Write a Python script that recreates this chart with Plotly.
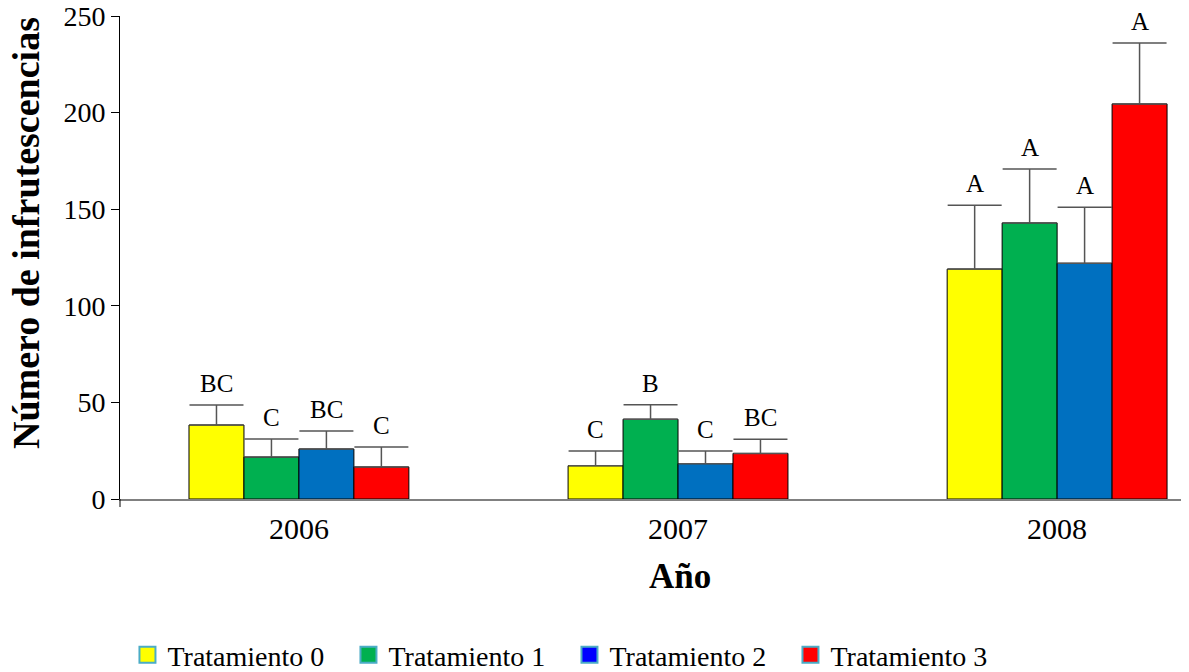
import plotly.graph_objects as go

years = ["2006", "2007", "2008"]
treatments = ["Tratamiento 0", "Tratamiento 1", "Tratamiento 2", "Tratamiento 3"]
bar_colors = ["#ffff00", "#00b050", "#0070c0", "#ff0000"]
legend_colors = ["#ffff00", "#00b050", "#0000ff", "#ff0000"]

means = [
    [38.3, 17.2, 119.0],
    [21.7, 41.3, 142.9],
    [25.9, 18.3, 122.0],
    [16.6, 23.6, 204.5],
]
err_tops = [
    [48.7, 24.8, 152.0],
    [31.0, 48.8, 170.8],
    [35.2, 24.8, 151.0],
    [26.9, 30.9, 236.0],
]
letters = [
    ["BC", "C", "A"],
    ["C", "B", "A"],
    ["BC", "C", "A"],
    ["C", "BC", "A"],
]

FONT = "Liberation Serif, Times New Roman, serif"
x_idx = list(range(len(years)))
bargap = 0.42
n = len(treatments)
bw = (1 - bargap) / n

fig = go.Figure()
annotations = []
for i, t in enumerate(treatments):
    errs = [e - m for e, m in zip(err_tops[i], means[i])]
    fig.add_trace(go.Bar(
        x=x_idx, y=means[i], name=t, showlegend=False,
        marker=dict(color=bar_colors[i], line=dict(color="black", width=1)),
        error_y=dict(type="data", symmetric=False, array=errs,
                     arrayminus=[0] * len(errs), color="#555555",
                     thickness=1.5, width=27),
    ))
    off = -(1 - bargap) / 2 + bw * (i + 0.5)
    for j in x_idx:
        annotations.append(dict(
            x=j + off, y=err_tops[i][j], text=letters[i][j], showarrow=False,
            xref="x", yref="y", yanchor="bottom", yshift=6,
            font=dict(family=FONT, size=25, color="black"),
        ))
    fig.add_trace(go.Scatter(
        x=[None], y=[None], mode="markers", name=t, showlegend=True,
        marker=dict(symbol="square", size=16, color=legend_colors[i],
                    line=dict(color="#4bacc6", width=2)),
    ))

# axis titles
annotations.append(dict(
    text="<b>Número de infrutescencias</b>", textangle=-90, showarrow=False,
    xref="paper", yref="paper", x=-0.088, y=0.551, xanchor="center", yanchor="middle",
    font=dict(family=FONT, size=38, color="black"),
))
annotations.append(dict(
    text="<b>Año</b>", showarrow=False,
    xref="paper", yref="paper", x=0.525, y=-0.161, xanchor="center", yanchor="middle",
    font=dict(family=FONT, size=35, color="black"),
))

fig.update_layout(
    width=1189, height=672,
    margin=dict(l=112, r=11, t=8, b=181),
    plot_bgcolor="white", paper_bgcolor="white",
    barmode="group", bargap=bargap, bargroupgap=0,
    font=dict(family=FONT, color="black"),
    annotations=annotations,
    shapes=[dict(type="line", xref="paper", yref="paper", x0=0, x1=0,
                 y0=0, y1=-0.0166, line=dict(color="black", width=1))],
    legend=dict(orientation="h", xref="paper", x=0.007, xanchor="left",
                yref="container", y=0.0372, yanchor="middle",
                font=dict(family=FONT, size=28, color="black"),
                entrywidth=176, entrywidthmode="pixels", tracegroupgap=0),
)
fig.update_xaxes(
    range=[-0.472, 2.34], tickmode="array", tickvals=x_idx, ticktext=years,
    showline=True, linecolor="#808080", linewidth=2, ticks="",
    tickfont=dict(family=FONT, size=30), showgrid=False, zeroline=False,
    automargin=False, ticklabelstandoff=2,
)
fig.update_yaxes(
    range=[0, 250], tickvals=[0, 50, 100, 150, 200, 250],
    showline=True, linecolor="black", linewidth=1, ticks="outside",
    ticklen=8, tickcolor="black", tickfont=dict(family=FONT, size=28),
    showgrid=False, zeroline=False, automargin=False,
    ticklabeloverflow="allow",
)
fig.write_html("out.html")
